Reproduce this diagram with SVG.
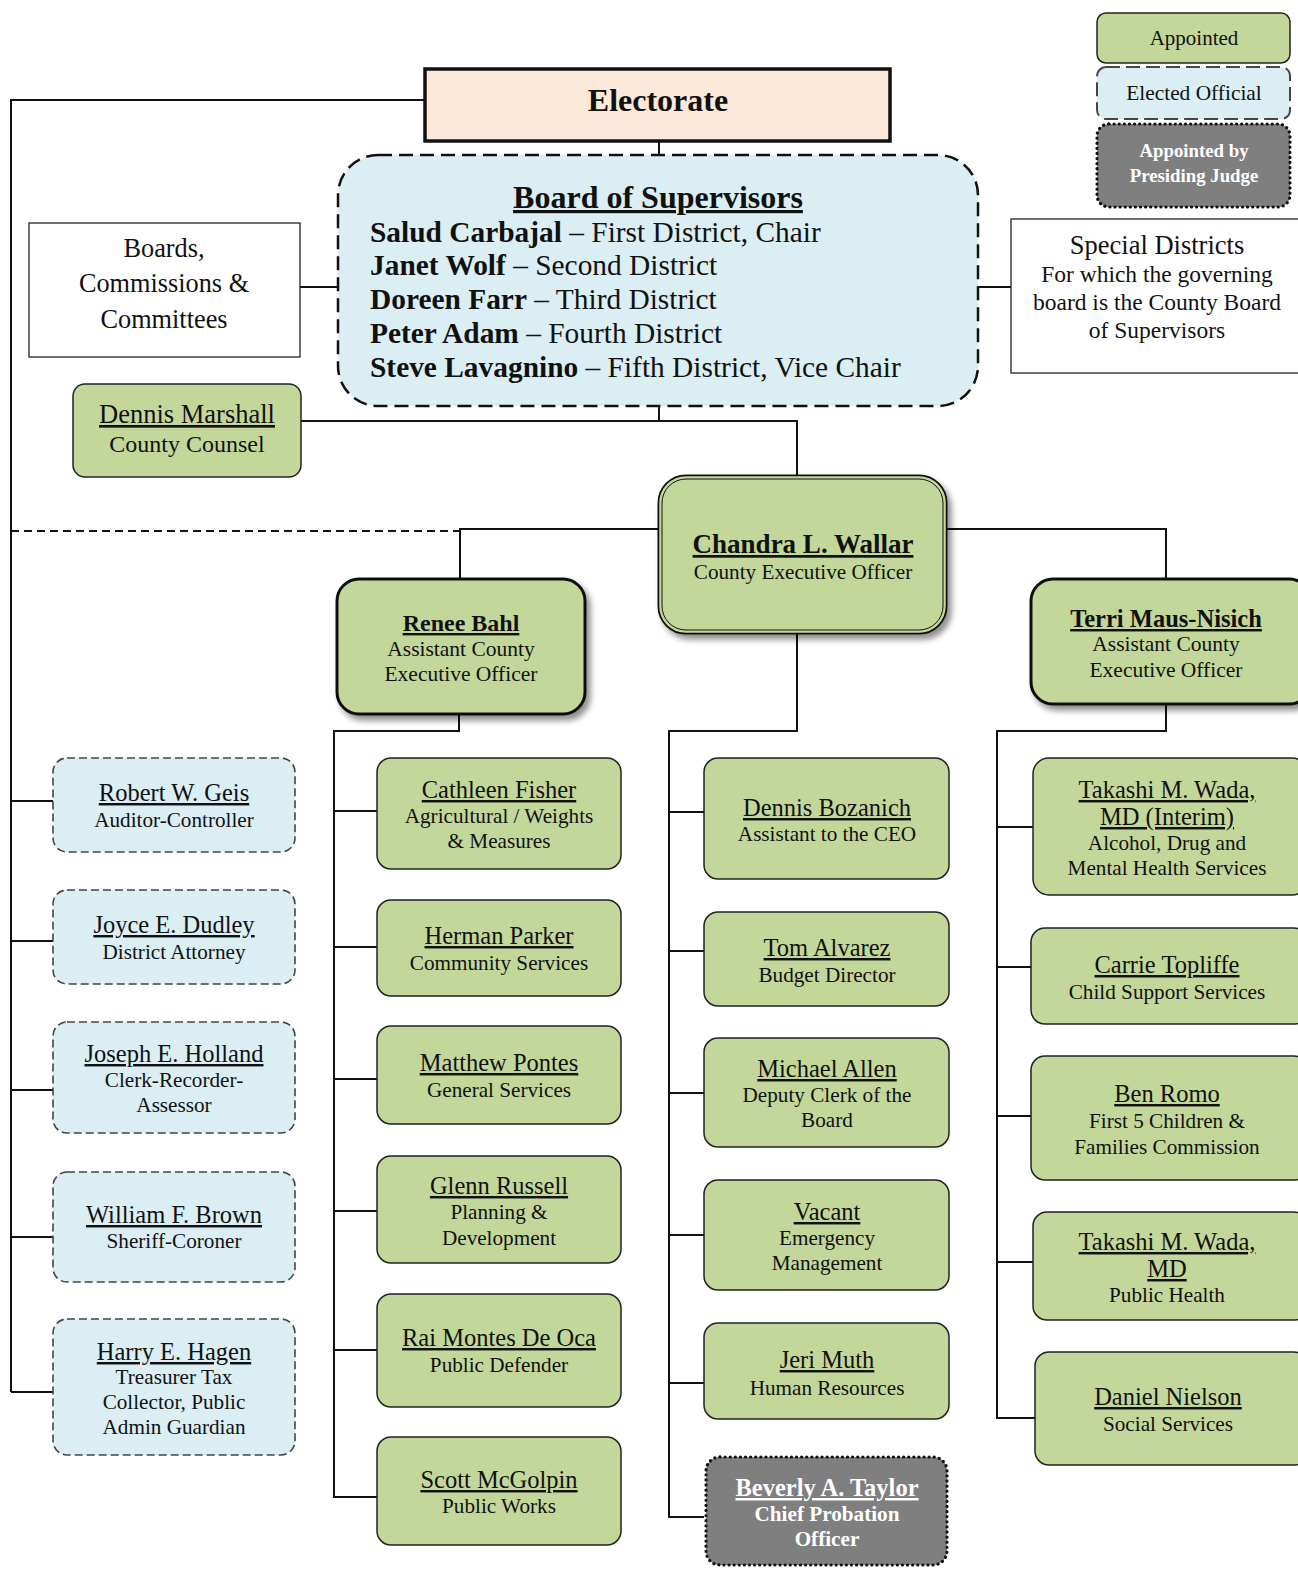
<svg xmlns="http://www.w3.org/2000/svg" width="1298" height="1570" viewBox="0 0 1298 1570">
<defs>
<filter id="sh" x="-10%" y="-10%" width="125%" height="130%">
<feGaussianBlur in="SourceAlpha" stdDeviation="3"/>
<feOffset dx="4" dy="5" result="b"/>
<feComponentTransfer><feFuncA type="linear" slope="0.45"/></feComponentTransfer>
<feMerge><feMergeNode/><feMergeNode in="SourceGraphic"/></feMerge>
</filter>
</defs>
<style>
text{font-family:"Liberation Serif","Times New Roman",serif;fill:#111;text-anchor:middle}
.g{fill:#c4d79b;stroke:#222;stroke-width:1.5}
.gt{fill:#c4d79b;stroke:#111;stroke-width:3}
.b{fill:#daeef3;stroke:#444;stroke-width:1.6;stroke-dasharray:8 4}
.p{fill:#7f7f7f;stroke:#111;stroke-width:3.2;stroke-dasharray:0.1 5;stroke-linecap:round}
.w{fill:#fff;stroke:#222;stroke-width:1.3}
.n{font-size:24.5px;text-decoration:underline}
.nb{font-size:24px;font-weight:bold;text-decoration:underline}
.s{font-size:21.2px}
.wt{fill:#fff;font-weight:bold}
.c path{stroke:#111;stroke-width:2;fill:none}
.bl text{font-size:29.4px;text-anchor:start}
.k{font-weight:bold}
</style>

<g class="c" id="connectors">
<path d="M425 100 H11 V1392"/>
<path d="M11 801 H53 M11 941 H53 M11 1090 H53 M11 1237 H53 M11 1392 H53"/>
<path d="M11 531 H460" stroke-dasharray="8 5"/>
<path d="M460 579 V529 H660"/>
<path d="M659 141 V155"/>
<path d="M300 287 H338 M978 287 H1011"/>
<path d="M659 406 V421 M301 421 H797 V477"/>
<path d="M945 529 H1166 V579"/>
<path d="M797 632 V731 H669 V1517 H704"/>
<path d="M669 812 H704 M669 951 H704 M669 1093 H704 M669 1235 H704 M669 1383 H704"/>
<path d="M459 714 V731 H334 V1497 H377"/>
<path d="M334 811 H377 M334 947 H377 M334 1079 H377 M334 1211 H377 M334 1350 H377"/>
<path d="M1166 704 V731 H997 V1418 H1035"/>
<path d="M997 827 H1033 M997 967 H1033 M997 1116 H1033 M997 1262 H1033"/>
</g>

<g id="legend-appointed">
<rect class="g" x="1097" y="13" width="193" height="50" rx="9"/>
<text x="1194" y="45" style="font-size:21px">Appointed</text>
</g>
<g id="legend-elected">
<rect x="1097" y="67" width="193" height="52" rx="9" fill="#daeef3" stroke="#444" stroke-width="2" stroke-dasharray="14 6"/>
<text x="1194" y="100" style="font-size:21.4px">Elected Official</text>
</g>
<g id="legend-judge">
<rect class="p" x="1097" y="124" width="193" height="83" rx="12"/>
<text class="wt" x="1194" y="157" style="font-size:18.8px">Appointed by</text>
<text class="wt" x="1194" y="182" style="font-size:18.8px">Presiding Judge</text>
</g>

<g id="electorate">
<rect x="425" y="69" width="465" height="72" fill="#fde9d9" stroke="#111" stroke-width="3.5"/>
<text x="658" y="111" style="font-size:32px;font-weight:bold">Electorate</text>
</g>

<g id="board">
<rect x="338" y="155" width="640" height="251" rx="40" fill="#daeef3" stroke="#111" stroke-width="2.5" stroke-dasharray="14 7"/>
<text x="658" y="208" style="font-size:32px;font-weight:bold;text-decoration:underline">Board of Supervisors</text>
<g class="bl">
<text x="370" y="242"><tspan class="k">Salud Carbajal</tspan> – First District, Chair</text>
<text x="370" y="275"><tspan class="k">Janet Wolf</tspan> – Second District</text>
<text x="370" y="309"><tspan class="k">Doreen Farr</tspan> – Third District</text>
<text x="370" y="343"><tspan class="k">Peter Adam</tspan> – Fourth District</text>
<text x="370" y="377"><tspan class="k">Steve Lavagnino</tspan> – Fifth District, Vice Chair</text>
</g>
</g>

<g id="boards-commissions">
<rect class="w" x="29" y="223" width="271" height="134"/>
<text x="164" y="257" style="font-size:26.3px">Boards,</text>
<text x="164" y="292" style="font-size:26.3px">Commissions &amp;</text>
<text x="164" y="328" style="font-size:26.3px">Committees</text>
</g>

<g id="special-districts">
<rect class="w" x="1011" y="219" width="300" height="154"/>
<text x="1157" y="254" style="font-size:26.5px">Special Districts</text>
<text x="1157" y="282" style="font-size:23.5px">For which the governing</text>
<text x="1157" y="310" style="font-size:23.5px">board is the County Board</text>
<text x="1157" y="338" style="font-size:23.5px">of Supervisors</text>
</g>

<g id="dennis-marshall">
<rect class="g" x="73" y="384" width="228" height="93" rx="12"/>
<text class="n" x="187" y="423" style="font-size:26.5px">Dennis Marshall</text>
<text x="187" y="452" style="font-size:24px">County Counsel</text>
</g>

<g id="ceo">
<rect x="660" y="477" width="285" height="155" rx="26" fill="#c4d79b" stroke="#111" stroke-width="5" filter="url(#sh)"/>
<rect x="660" y="477" width="285" height="155" rx="26" fill="#c4d79b" stroke="#c4d79b" stroke-width="1.5"/>
<rect x="662" y="479" width="281" height="151" rx="24" fill="none" stroke="#111" stroke-width="1"/>
<text class="nb" x="803" y="553" style="font-size:27px">Chandra L. Wallar</text>
<text class="s" x="803" y="579">County Executive Officer</text>
</g>

<g id="renee-bahl">
<rect class="gt" x="337" y="579" width="248" height="135" rx="22" filter="url(#sh)"/>
<text class="nb" x="461" y="631">Renee Bahl</text>
<text class="s" x="461" y="656" style="font-size:21.5px">Assistant County</text>
<text class="s" x="461" y="681" style="font-size:21.5px">Executive Officer</text>
</g>

<g id="terri-maus-nisich">
<rect class="gt" x="1031" y="579" width="280" height="125" rx="22" filter="url(#sh)"/>
<text class="nb" x="1166" y="627" style="font-size:24.5px">Terri Maus-Nisich</text>
<text class="s" x="1166" y="651" style="font-size:21.5px">Assistant County</text>
<text class="s" x="1166" y="677" style="font-size:21.5px">Executive Officer</text>
</g>

<g id="robert-geis">
<rect class="b" x="53" y="758" width="242" height="94" rx="14"/>
<text class="n" x="174" y="801">Robert W. Geis</text>
<text class="s" x="174" y="827">Auditor-Controller</text>
</g>
<g id="joyce-dudley">
<rect class="b" x="53" y="890" width="242" height="94" rx="14"/>
<text class="n" x="174" y="933">Joyce E. Dudley</text>
<text class="s" x="174" y="959">District Attorney</text>
</g>
<g id="joseph-holland">
<rect class="b" x="53" y="1022" width="242" height="111" rx="14"/>
<text class="n" x="174" y="1062">Joseph E. Holland</text>
<text class="s" x="174" y="1087">Clerk-Recorder-</text>
<text class="s" x="174" y="1112">Assessor</text>
</g>
<g id="william-brown">
<rect class="b" x="53" y="1172" width="242" height="110" rx="14"/>
<text class="n" x="174" y="1223">William F. Brown</text>
<text class="s" x="174" y="1248">Sheriff-Coroner</text>
</g>
<g id="harry-hagen">
<rect class="b" x="53" y="1319" width="242" height="136" rx="14"/>
<text class="n" x="174" y="1360">Harry E. Hagen</text>
<text class="s" x="174" y="1384">Treasurer Tax</text>
<text class="s" x="174" y="1409">Collector, Public</text>
<text class="s" x="174" y="1434">Admin Guardian</text>
</g>

<g id="cathleen-fisher">
<rect class="g" x="377" y="758" width="244" height="111" rx="14"/>
<text class="n" x="499" y="798">Cathleen Fisher</text>
<text class="s" x="499" y="823">Agricultural / Weights</text>
<text class="s" x="499" y="848">&amp; Measures</text>
</g>
<g id="herman-parker">
<rect class="g" x="377" y="900" width="244" height="96" rx="14"/>
<text class="n" x="499" y="944">Herman Parker</text>
<text class="s" x="499" y="970">Community Services</text>
</g>
<g id="matthew-pontes">
<rect class="g" x="377" y="1026" width="244" height="98" rx="14"/>
<text class="n" x="499" y="1071">Matthew Pontes</text>
<text class="s" x="499" y="1097">General Services</text>
</g>
<g id="glenn-russell">
<rect class="g" x="377" y="1156" width="244" height="107" rx="14"/>
<text class="n" x="499" y="1194">Glenn Russell</text>
<text class="s" x="499" y="1219">Planning &amp;</text>
<text class="s" x="499" y="1245">Development</text>
</g>
<g id="rai-montes-de-oca">
<rect class="g" x="377" y="1294" width="244" height="113" rx="14"/>
<text class="n" x="499" y="1346">Rai Montes De Oca</text>
<text class="s" x="499" y="1372">Public Defender</text>
</g>
<g id="scott-mcgolpin">
<rect class="g" x="377" y="1437" width="244" height="108" rx="14"/>
<text class="n" x="499" y="1488">Scott McGolpin</text>
<text class="s" x="499" y="1513">Public Works</text>
</g>

<g id="dennis-bozanich">
<rect class="g" x="704" y="758" width="245" height="121" rx="14"/>
<text class="n" x="827" y="816">Dennis Bozanich</text>
<text class="s" x="827" y="841">Assistant to the CEO</text>
</g>
<g id="tom-alvarez">
<rect class="g" x="704" y="912" width="245" height="94" rx="14"/>
<text class="n" x="827" y="956">Tom Alvarez</text>
<text class="s" x="827" y="982">Budget Director</text>
</g>
<g id="michael-allen">
<rect class="g" x="704" y="1038" width="245" height="109" rx="14"/>
<text class="n" x="827" y="1077">Michael Allen</text>
<text class="s" x="827" y="1102">Deputy Clerk of the</text>
<text class="s" x="827" y="1127">Board</text>
</g>
<g id="vacant">
<rect class="g" x="704" y="1180" width="245" height="110" rx="14"/>
<text class="n" x="827" y="1220">Vacant</text>
<text class="s" x="827" y="1245">Emergency</text>
<text class="s" x="827" y="1270">Management</text>
</g>
<g id="jeri-muth">
<rect class="g" x="704" y="1323" width="245" height="96" rx="14"/>
<text class="n" x="827" y="1368">Jeri Muth</text>
<text class="s" x="827" y="1395">Human Resources</text>
</g>
<g id="beverly-taylor">
<rect class="p" x="706" y="1457" width="241" height="108" rx="14"/>
<text class="nb wt" x="827" y="1496" style="font-size:24.5px">Beverly A. Taylor</text>
<text class="wt" x="827" y="1521" style="font-size:21.2px">Chief Probation</text>
<text class="wt" x="827" y="1546" style="font-size:21.2px">Officer</text>
</g>

<g id="takashi-wada-interim">
<rect class="g" x="1033" y="758" width="275" height="137" rx="16"/>
<text class="n" x="1167" y="798">Takashi M. Wada,</text>
<text class="n" x="1167" y="825">MD (Interim)</text>
<text class="s" x="1167" y="850">Alcohol, Drug and</text>
<text class="s" x="1167" y="875">Mental Health Services</text>
</g>
<g id="carrie-topliffe">
<rect class="g" x="1031" y="928" width="277" height="96" rx="14"/>
<text class="n" x="1167" y="973">Carrie Topliffe</text>
<text class="s" x="1167" y="999">Child Support Services</text>
</g>
<g id="ben-romo">
<rect class="g" x="1031" y="1056" width="277" height="124" rx="14"/>
<text class="n" x="1167" y="1102">Ben Romo</text>
<text class="s" x="1167" y="1128">First 5 Children &amp;</text>
<text class="s" x="1167" y="1154">Families Commission</text>
</g>
<g id="takashi-wada">
<rect class="g" x="1033" y="1212" width="275" height="108" rx="14"/>
<text class="n" x="1167" y="1250">Takashi M. Wada,</text>
<text class="n" x="1167" y="1277">MD</text>
<text class="s" x="1167" y="1302">Public Health</text>
</g>
<g id="daniel-nielson">
<rect class="g" x="1035" y="1352" width="273" height="113" rx="14"/>
<text class="n" x="1168" y="1405">Daniel Nielson</text>
<text class="s" x="1168" y="1431">Social Services</text>
</g>
</svg>
